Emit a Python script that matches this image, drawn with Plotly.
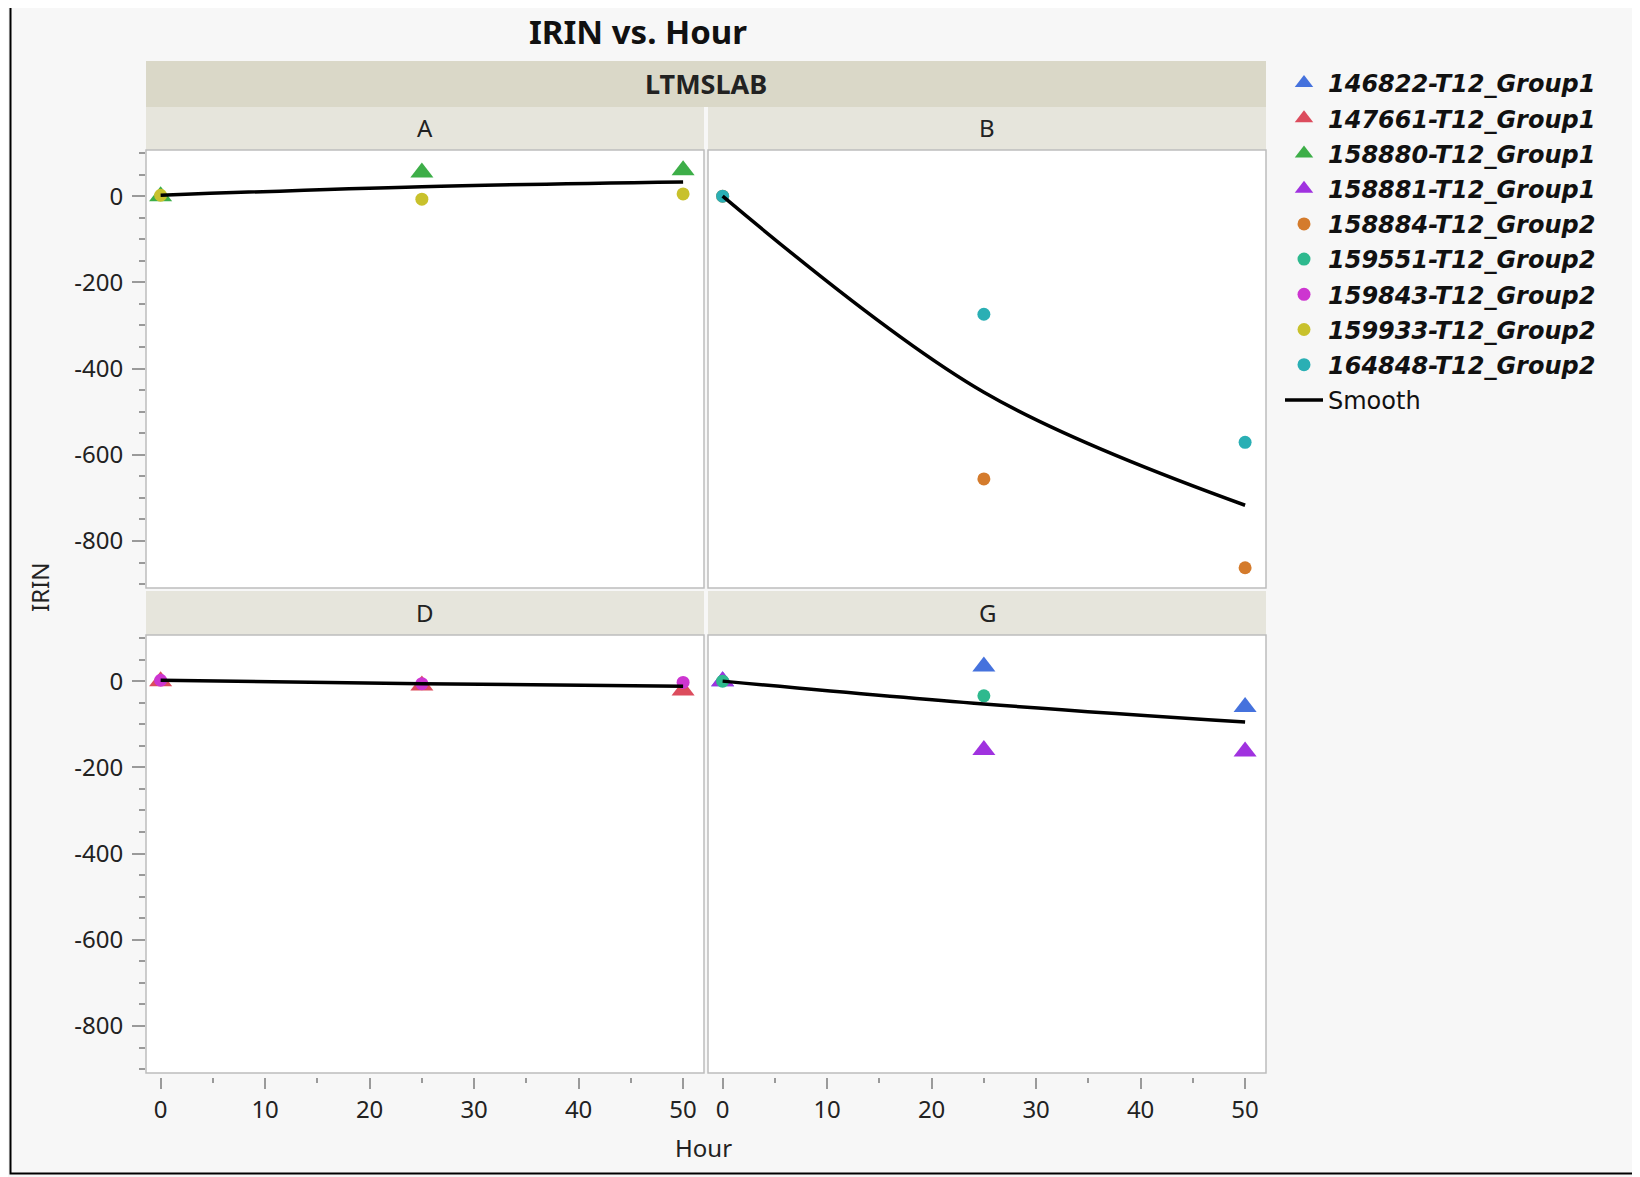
import plotly.graph_objects as go

W, H = 1640, 1177
OFF = 8  # page body margin

hours = [0, 25, 50]

subjects = ["146822-T12_Group1", "147661-T12_Group1", "158880-T12_Group1", "158881-T12_Group1",
            "158884-T12_Group2", "159551-T12_Group2", "159843-T12_Group2", "159933-T12_Group2",
            "164848-T12_Group2"]
subject_panel = ["G", "D", "A", "G", "B", "G", "D", "A", "B"]
subject_colors = ["#4572DD", "#DC4C5D", "#3DAE48", "#A032DF", "#D47B2C", "#2EB98E", "#CD35D0", "#C8C12C", "#2AAFB4"]
subject_symbols = ["triangle-up"] * 4 + ["circle"] * 5

irin_146822 = [0, 34, -60]
irin_147661 = [0, -10, -22]
irin_158880 = [0, 55, 60]
irin_158881 = [0, -160, -163]
irin_158884 = [0, -656, -862]
irin_159551 = [0, -34, None]
irin_159843 = [2, -6, -3]
irin_159933 = [2, -7, 5]
irin_164848 = [0, -274, -571]
subject_values = [irin_146822, irin_147661, irin_158880, irin_158881, irin_158884,
                  irin_159551, irin_159843, irin_159933, irin_164848]

panels = ["A", "B", "D", "G"]
smooth_A = [2, 22, 33]
smooth_B = [0, -455, -717]
smooth_D = [2, -6, -12]
smooth_G = [0, -53, -95]
smooth_values = [smooth_A, smooth_B, smooth_D, smooth_G]

y_ticks = [0, -200, -400, -600, -800]
y_ticktext = ["0", "-200", "-400", "-600", "-800"]
x_ticks = [0, 10, 20, 30, 40, 50]

FONT = "Noto Sans"
LFONT = "DejaVu Sans"
TICKC = "#9A9A9A"
BORDER = "#BDBDBD"

def px(x):
    return (x - OFF) / W

def py(y):
    return 1 - (y - OFF) / H

# panel geometry in target pixels
colx = {"A": (146, 704), "B": (708, 1266), "D": (146, 704), "G": (708, 1266)}
rowy = {"A": (150, 588), "B": (150, 588), "D": (635, 1073), "G": (635, 1073)}
axis_id = {"A": ("x", "y"), "B": ("x2", "y2"), "D": ("x3", "y3"), "G": ("x4", "y4")}

fig = go.Figure()

for name, pan, col, sym, vals in zip(subjects, subject_panel, subject_colors, subject_symbols, subject_values):
    xa, ya = axis_id[pan]
    fig.add_trace(go.Scatter(
        x=hours, y=vals, mode="markers", name="<b><i>" + name + "</i></b>",
        xaxis=xa, yaxis=ya, legendgroup=name,
        marker=dict(symbol=sym, color=col, size=20 if sym == "triangle-up" else 13,
                    line=dict(width=0)),
        cliponaxis=False,
    ))

for i, (pan, vals) in enumerate(zip(panels, smooth_values)):
    xa, ya = axis_id[pan]
    fig.add_trace(go.Scatter(
        x=hours, y=vals, mode="lines", name="Smooth", legendgroup="Smooth",
        showlegend=(i == 0), xaxis=xa, yaxis=ya,
        line=dict(color="black", width=3.5, shape="spline", smoothing=1.0),
    ))

xr = [-1.4, 52.0]
yr = [-909, 107]

layout_axes = {}
for pan in panels:
    xa, ya = axis_id[pan]
    xkey = "xaxis" if xa == "x" else "xaxis" + xa[1:]
    ykey = "yaxis" if ya == "y" else "yaxis" + ya[1:]
    bottom = pan in ("D", "G")
    left = pan in ("A", "D")
    x0, x1 = colx[pan]
    y0, y1 = rowy[pan]
    xd = dict(domain=[px(x0), px(x1)], range=xr, showgrid=False, zeroline=False,
              showline=False, tickvals=x_ticks if bottom else [], fixedrange=True)
    if bottom:
        xd.update(anchor="free", position=py(y1 + 4), ticks="outside", ticklen=11, tickwidth=1.5,
                  tickcolor=TICKC, showticklabels=True, ticklabelstandoff=0,
                  tickfont=dict(family=FONT, size=24, color="#222"),
                  minor=dict(dtick=5, tick0=0, ticks="outside", ticklen=5, tickcolor=TICKC, tickwidth=1.5))
    else:
        xd.update(anchor=ya, ticks="", showticklabels=False)
    yd = dict(domain=[py(y1), py(y0)], range=yr, showgrid=False, zeroline=False,
              anchor=xa, showline=False, fixedrange=True, tickvals=y_ticks if left else [])
    if left:
        yd.update(ticks="outside", ticklen=13, tickwidth=1.5, tickcolor=TICKC, ticktext=y_ticktext,
                  showticklabels=True, ticklabelstandoff=4,
                  tickfont=dict(family=FONT, size=24, color="#222"),
                  minor=dict(dtick=50, tick0=0, ticks="outside", ticklen=6, tickcolor=TICKC, tickwidth=1.5))
    else:
        yd.update(ticks="", showticklabels=False)
    layout_axes[xkey] = xd
    layout_axes[ykey] = yd

shapes = []
# LTMSLAB band
shapes.append(dict(type="rect", xref="paper", yref="paper", x0=px(146), x1=px(1266), y0=py(107), y1=py(61),
                   fillcolor="#DAD8C8", line=dict(width=0), layer="below"))
# strips
for (sx0, sx1) in [(146, 704), (708, 1266)]:
    for (sy0, sy1) in [(107, 150), (591, 635)]:
        shapes.append(dict(type="rect", xref="paper", yref="paper", x0=px(sx0), x1=px(sx1),
                           y0=py(sy1), y1=py(sy0), fillcolor="#E6E5DC", line=dict(width=0), layer="below"))
# plot borders
for pan in panels:
    x0, x1 = colx[pan]
    y0, y1 = rowy[pan]
    shapes.append(dict(type="rect", xref="paper", yref="paper", x0=px(x0), x1=px(x1), y0=py(y1), y1=py(y0),
                       fillcolor="white", line=dict(color=BORDER, width=1.5), layer="below"))
# outer frame
shapes.append(dict(type="rect", xref="paper", yref="paper", x0=px(10.5), x1=px(1660), y0=py(1173.5), y1=py(5),
                   line=dict(color="black", width=2), fillcolor="rgba(0,0,0,0)", layer="above"))

annotations = [
    dict(text="<b>IRIN vs. Hour</b>", x=px(638), y=py(31), xref="paper", yref="paper", showarrow=False,
         font=dict(family=FONT, size=33, color="#111"), xanchor="center", yanchor="middle"),
    dict(text="<b>LTMSLAB</b>", x=px(706), y=py(83), xref="paper", yref="paper", showarrow=False,
         font=dict(family=FONT, size=27, color="#222"), xanchor="center", yanchor="middle"),
    dict(text="A", x=px(425), y=py(128), xref="paper", yref="paper", showarrow=False,
         font=dict(family=FONT, size=24, color="#222"), xanchor="center", yanchor="middle"),
    dict(text="B", x=px(987), y=py(128), xref="paper", yref="paper", showarrow=False,
         font=dict(family=FONT, size=24, color="#222"), xanchor="center", yanchor="middle"),
    dict(text="D", x=px(425), y=py(613), xref="paper", yref="paper", showarrow=False,
         font=dict(family=FONT, size=24, color="#222"), xanchor="center", yanchor="middle"),
    dict(text="G", x=px(987), y=py(613), xref="paper", yref="paper", showarrow=False,
         font=dict(family=FONT, size=24, color="#222"), xanchor="center", yanchor="middle"),
    dict(text="Hour", x=px(703), y=py(1147), xref="paper", yref="paper", showarrow=False,
         font=dict(family=FONT, size=24, color="#222"), xanchor="center", yanchor="middle"),
    dict(text="IRIN", x=px(39), y=py(588), xref="paper", yref="paper", showarrow=False, textangle=-90,
         font=dict(family=FONT, size=24, color="#222"), xanchor="center", yanchor="middle"),
]

fig.update_layout(
    width=W, height=H,
    margin=dict(l=0, r=0, t=0, b=0),
    paper_bgcolor="#F7F7F7", plot_bgcolor="white",
    showlegend=True,
    legend=dict(x=px(1280), y=py(61), xanchor="left", yanchor="top",
                font=dict(family=LFONT, size=24, color="#111"),
                bgcolor="rgba(0,0,0,0)", tracegroupgap=1, itemwidth=38,
                traceorder="grouped"),
    shapes=shapes, annotations=annotations,
    **layout_axes,
)

fig.write_html("out.html")
